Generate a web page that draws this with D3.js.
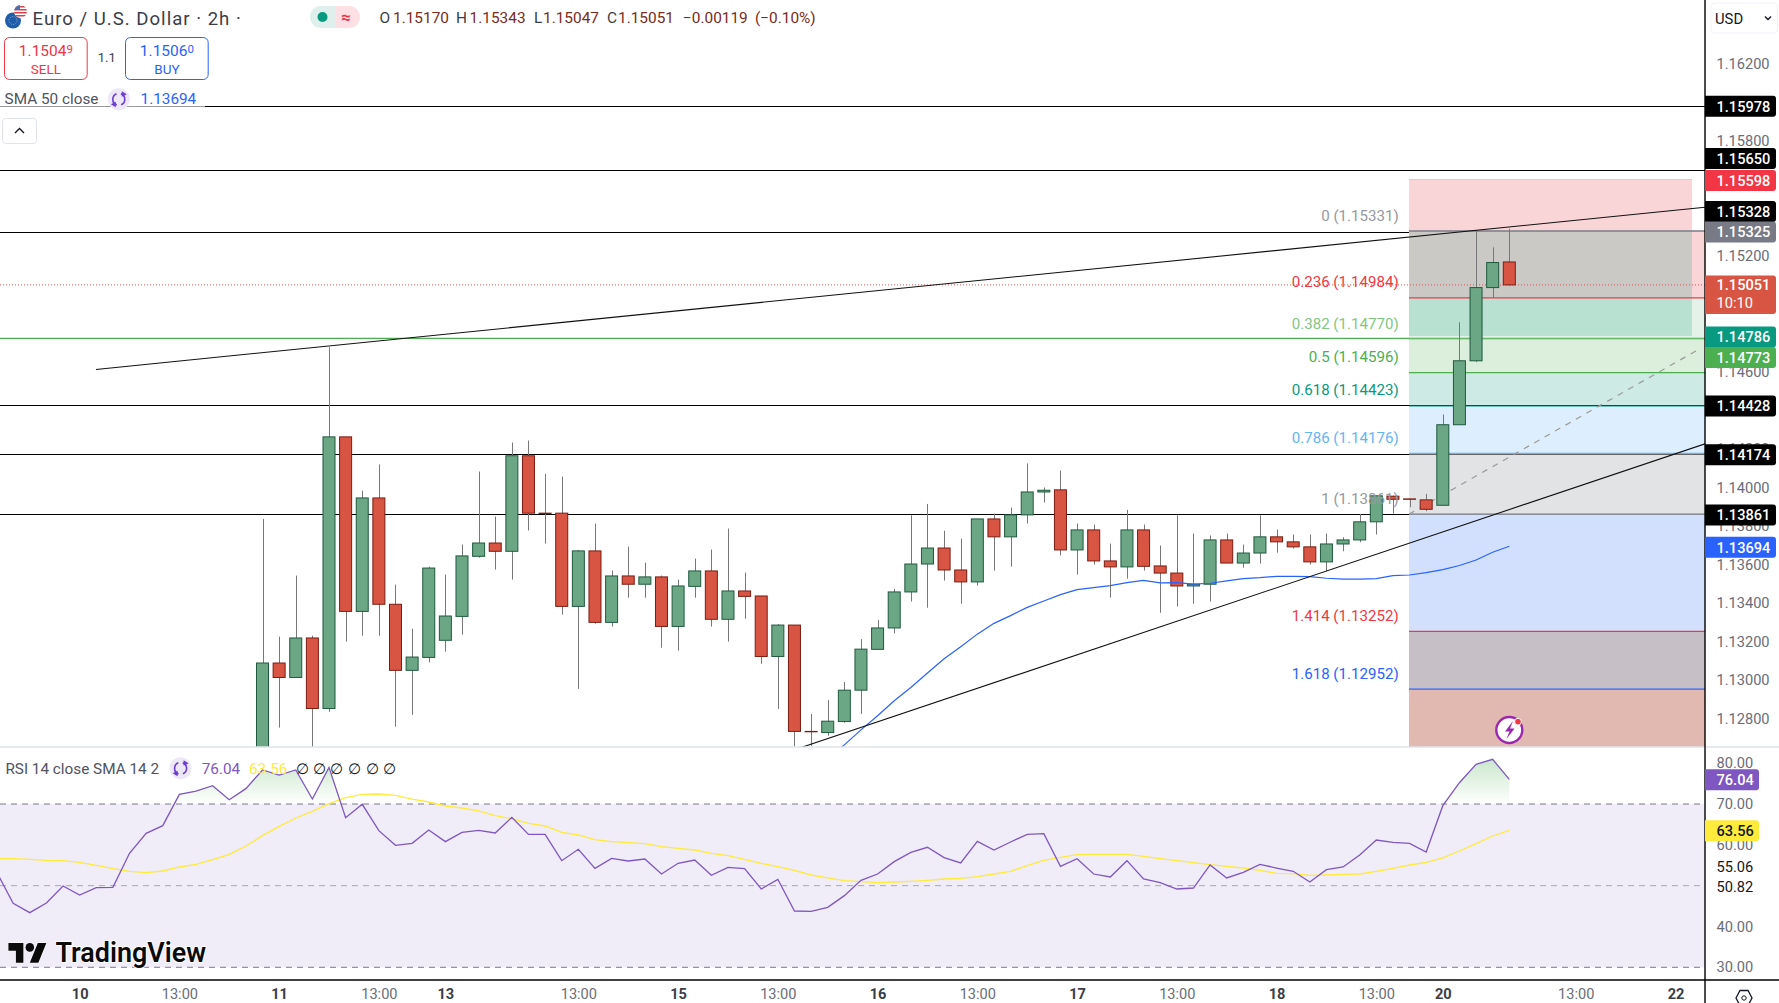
<!DOCTYPE html>
<html>
<head>
<meta charset="utf-8">
<title>EUR/USD 2h</title>
<script src="https://cdn.jsdelivr.net/npm/d3@7"></script>
<style>
	html, body { margin: 0; padding: 0; background: #fff; }
	svg { display: block; }
	text { font-family: Roboto, sans-serif; }
</style>
</head>
<body>
<div id="chart"></div>
<script>
// candles, one entry per 2h bar, index 0 is the first bar visible in the pane
const opens = [
	1.12420,1.13088,1.13013,1.13218,1.12852,1.14262,1.13356,1.13945,1.13393,1.13050,
	1.13117,1.13206,1.13330,1.13642,1.13711,1.13668,1.14164,1.13866,1.13866,1.13382,
	1.13670,1.13299,1.13540,1.13497,1.13535,1.13278,1.13486,1.13566,1.13315,1.13462,
	1.13436,1.13122,1.13285,1.12733,1.12727,1.12784,1.12947,1.13159,1.13270,1.13457,
	1.13602,1.13685,1.13571,1.13509,1.13836,1.13743,1.13857,1.13976,1.13987,1.13675,
	1.13779,1.13618,1.13587,1.13779,1.13592,1.13555,1.13488,1.13497,1.13727,1.13607,
	1.13659,1.13743,1.13717,1.13691,1.13613,1.13706,1.13727,1.13821,1.13954,1.13940,
	1.13935,1.13907,1.14325,1.14657,1.15037,1.15170];
const highs = [
	1.13836,1.13225,1.13542,1.13230,1.14728,1.14262,1.13983,1.14119,1.13495,1.13266,
	1.13588,1.13547,1.13703,1.14082,1.13848,1.14233,1.14243,1.14070,1.14056,1.13675,
	1.13812,1.13568,1.13692,1.13609,1.13542,1.13521,1.13630,1.13677,1.13786,1.13557,
	1.13436,1.13290,1.13285,1.12823,1.12895,1.12989,1.13212,1.13311,1.13472,1.13855,
	1.13914,1.13775,1.13734,1.13836,1.13864,1.13895,1.14124,1.13999,1.14087,1.13812,
	1.13807,1.13708,1.13883,1.13807,1.13698,1.13855,1.13760,1.13750,1.13760,1.13703,
	1.13855,1.13781,1.13755,1.13755,1.13760,1.13741,1.13862,1.13956,1.13957,1.13940,
	1.13966,1.14378,1.14857,1.15335,1.15246,1.15343];
const lows = [
	1.12350,1.12753,1.13013,1.12563,1.12835,1.13199,1.13230,1.13230,1.12757,1.12819,
	1.13091,1.13147,1.13235,1.13635,1.13573,1.13521,1.13776,1.13708,1.13339,1.12954,
	1.13292,1.13277,1.13427,1.13427,1.13167,1.13152,1.13427,1.13277,1.13199,1.13318,
	1.13084,1.12850,1.12563,1.12658,1.12710,1.12778,1.12824,1.13159,1.13242,1.13407,
	1.13375,1.13516,1.13396,1.13490,1.13568,1.13588,1.13812,1.13921,1.13646,1.13547,
	1.13599,1.13427,1.13526,1.13568,1.13349,1.13381,1.13396,1.13407,1.13607,1.13583,
	1.13604,1.13661,1.13682,1.13599,1.13564,1.13668,1.13715,1.13755,1.13864,1.13897,
	1.13876,1.13907,1.14325,1.14650,1.14983,1.15047];
const closes = [
	1.13088,1.13013,1.13218,1.12852,1.14262,1.13356,1.13945,1.13393,1.13050,1.13119,
	1.13581,1.13332,1.13644,1.13711,1.13668,1.14164,1.13866,1.13864,1.13382,1.13670,
	1.13299,1.13540,1.13497,1.13535,1.13278,1.13488,1.13566,1.13315,1.13462,1.13434,
	1.13122,1.13285,1.12733,1.12731,1.12786,1.12947,1.13160,1.13270,1.13457,1.13602,
	1.13685,1.13571,1.13509,1.13836,1.13743,1.13857,1.13976,1.13985,1.13675,1.13779,
	1.13618,1.13587,1.13779,1.13590,1.13555,1.13488,1.13497,1.13727,1.13607,1.13659,
	1.13743,1.13717,1.13691,1.13613,1.13706,1.13727,1.13821,1.13956,1.13938,1.13938,
	1.13886,1.14325,1.14657,1.15037,1.15167,1.15051];

// SMA 50, starts at bar 34 (earlier bars are below the pane)
const smaStart = 34;
const smaValues = [
	1.12585,1.12663,1.12741,1.12814,1.12892,1.12961,1.13036,1.13110,1.13173,1.13238,
	1.13294,1.13334,1.13377,1.13410,1.13443,1.13469,1.13479,1.13490,1.13505,1.13517,
	1.13504,1.13505,1.13498,1.13502,1.13514,1.13526,1.13531,1.13538,1.13538,1.13536,
	1.13528,1.13524,1.13524,1.13526,1.13542,1.13545,1.13557,1.13573,1.13594,1.13623,
	1.13663,1.13694];

// RSI pane reaches further left than the candles
const rsiStart = -16;
const rsiValues = [
	53.43,45.67,43.38,45.75,49.92,47.71,49.51,49.59,57.92,62.82,64.69,72.37,73.18,74.49,71.06,73.76,
	78.33,77.10,78.33,71.22,78.98,66.65,69.92,63.47,59.88,60.37,63.63,60.78,63.06,63.55,62.90,66.73,
	62.57,62.57,56.12,58.90,54.24,56.69,56.04,56.53,52.85,55.47,56.28,52.53,54.49,54.16,49.18,51.55,
	43.79,43.71,44.69,47.55,51.30,52.85,55.88,58.16,59.39,56.86,55.55,60.86,58.73,60.69,62.57,62.73,
	54.73,56.61,52.85,52.12,56.12,51.63,50.73,49.18,49.42,55.06,51.88,53.26,55.22,54.32,53.51,50.90,
	53.92,54.57,57.51,61.18,60.61,60.37,58.24,69.59,75.22,79.71,80.94,76.04];
const rsiSmaValues = [
	56.61,56.61,56.45,56.20,56.12,55.71,54.98,54.16,53.51,53.18,53.59,54.57,55.22,56.37,57.67,59.71,
	62.24,64.53,66.57,68.20,70.08,71.55,72.37,72.45,72.12,71.22,70.49,69.51,69.02,68.29,67.14,66.41,
	65.27,64.61,63.06,62.41,61.27,60.78,60.53,60.29,59.55,59.14,58.73,57.92,57.35,56.45,55.47,54.65,
	53.75,52.61,51.88,51.22,50.97,50.73,50.90,51.06,51.30,51.63,51.79,52.20,52.85,53.51,54.90,56.20,
	56.94,57.59,57.67,57.67,57.67,57.18,56.61,56.12,55.63,55.14,54.73,54.32,53.75,53.02,52.94,52.53,
	52.61,52.77,52.85,53.51,54.24,55.06,55.71,56.78,58.49,60.29,62.16,63.56];

// drawn levels
const blackLevels = [1.15978, 1.15650, 1.15328, 1.14428, 1.14174, 1.13861];
const greenLevel = 1.14773;
const lastPrice = 1.15051;
const fibRatios = ["0", "0.236", "0.382", "0.5", "0.618", "0.786", "1", "1.414", "1.618"];
const fibPrices = [1.15331, 1.14984, 1.14770, 1.14596, 1.14423, 1.14176, 1.13861, 1.13252, 1.12952];
const fibColors = ["#787b86", "#f23645", "#81c784", "#4caf50", "#089981", "#64b5f6", "#787b86", "#f23645", "#2962ff"];
const fibBandColors = ["#fad5d8", "#e4f2e9", "#dcefdd", "#cdeae4", "#ddeefe", "#e2e3e5", "#d2e0fd", "#c6bfc6", "#e2b9b0"];
const boxPrices = [1.15598, 1.15331, 1.14984, 1.14786];
const boxColors = ["#fad5d8", "#cbc9c6", "#b9e1d2"];
// [bar, price] ends of the drawn trend lines
const upperTrend = [[-10.02, 1.14612], [86.77, 1.15454]];
const lowerTrend = [[32.39, 1.12649], [86.77, 1.14226]];
const fibTrend = [[68.97, 1.13861], [86.53, 1.14723]];

// axes
// the other round ticks sit fully under a price label, so they are left out
const priceTicks = [1.162, 1.158, 1.152, 1.146, 1.142, 1.14, 1.138, 1.136, 1.134, 1.132, 1.13, 1.128];
const rsiTicks = [80, 70, 60, 40, 30];
const rsiPlainTicks = [55.06, 50.82];
const rsiPlainNudge = [2, 4.5];
const timeTickBars = [-11, -5, 1, 7, 11, 19, 25, 31, 37, 43, 49, 55, 61, 67, 71, 79, 85];
const timeTickLabels = ["10", "13:00", "11", "13:00", "13", "13:00", "15", "13:00", "16", "13:00", "17", "13:00", "18", "13:00", "20", "13:00", "22"];
const priceLabels = [1.15978, 1.15650, 1.15598, 1.15328, 1.15325, 1.14786, 1.14773, 1.14428, 1.14174, 1.13861, 1.13694];
const priceLabelColors = ["#000", "#000", "#f23645", "#000", "#787b86", "#089981", "#4caf50", "#000", "#000", "#000", "#2962ff"];
// labels pushed away from their level so they do not overlap
const priceLabelNudge = [0, -11, 1, -20, 0, 1, 19, 1, 1, 1, 1];

const W = 1779, H = 1003;
const axisX = 1705, mainBottom = 747, rsiBottom = 980;
const green = "#6ca785", greenEdge = "#1e5a3e", red = "#d95543", redEdge = "#7b1c12", wick = "#787878";

const x = d3.scaleLinear().domain([0, 75]).range([262.5, 1509.3]);
const y = d3.scaleLinear().domain([1.16530, 1.12652]).range([0, mainBottom]);
const r = d3.scaleLinear().domain([70, 30]).range([804, 967.3]);

const svg = d3.select("#chart").append("svg").attr("width", W).attr("height", H);
const defs = svg.append("defs");
defs.append("clipPath").attr("id", "main").append("rect").attr("width", axisX).attr("height", mainBottom);
defs.append("clipPath").attr("id", "over").append("rect").attr("width", axisX).attr("y", mainBottom).attr("height", r(70) - mainBottom);
const grad = defs.append("linearGradient").attr("id", "ob").attr("gradientUnits", "userSpaceOnUse")
	.attr("x1", 0).attr("x2", 0).attr("y1", r(81)).attr("y2", r(70));
grad.append("stop").attr("offset", 0).attr("stop-color", "#4caf50").attr("stop-opacity", 0.3);
grad.append("stop").attr("offset", 1).attr("stop-color", "#4caf50").attr("stop-opacity", 0);

svg.append("rect").attr("width", W).attr("height", H).attr("fill", "#fff");

// ---- main pane
const main = svg.append("g").attr("clip-path", "url(#main)");
const xA = 1409, xB = axisX, xBoxEnd = 1692;

main.selectAll(".lvl").data(blackLevels).enter().append("line")
	.attr("x1", 0).attr("x2", axisX).attr("y1", d => Math.round(y(d)) + 0.5).attr("y2", d => Math.round(y(d)) + 0.5)
	.attr("stroke", "#000").attr("stroke-width", 1.2);

// fib bands, each one runs down to the next level
main.selectAll(".band").data(fibPrices).enter().append("rect")
	.attr("x", xA).attr("width", xB - xA)
	.attr("y", d => y(d))
	.attr("height", (d, i) => (i + 1 < fibPrices.length ? y(fibPrices[i + 1]) : mainBottom) - y(d))
	.attr("fill", (d, i) => fibBandColors[i]);
// position box on top of the bands
main.selectAll(".box").data(boxColors).enter().append("rect")
	.attr("x", xA).attr("width", xBoxEnd - xA)
	.attr("y", (d, i) => y(boxPrices[i]))
	.attr("height", (d, i) => y(boxPrices[i + 1]) - y(boxPrices[i]))
	.attr("fill", d => d);
main.append("line").attr("x1", xA).attr("x2", xBoxEnd).attr("y1", y(boxPrices[0])).attr("y2", y(boxPrices[0])).attr("stroke", "#f9c0c4");

main.append("line").attr("x1", 0).attr("x2", axisX).attr("y1", y(greenLevel)).attr("y2", y(greenLevel))
	.attr("stroke", "#4caf50").attr("stroke-width", 1.2);

main.selectAll(".fibline").data(fibPrices).enter().append("line")
	.attr("x1", xA).attr("x2", xB).attr("y1", d => y(d)).attr("y2", d => y(d))
	.attr("stroke", (d, i) => fibColors[i]).attr("stroke-width", (d, i) => i == 0 ? 1.5 : 1.2);
// two of the black levels still show through the bands
main.selectAll(".dim").data(blackLevels.slice(3, 5)).enter().append("line")
	.attr("x1", xA).attr("x2", xB).attr("y1", d => Math.round(y(d)) + 0.5).attr("y2", d => Math.round(y(d)) + 0.5)
	.attr("stroke", "#000").attr("stroke-opacity", 0.55);

svg.append("g").selectAll("text").data(fibPrices).enter().append("text")
	.attr("x", 1398.7).attr("y", d => y(d) - 15.7).attr("dy", "0.35em").attr("text-anchor", "end")
	.attr("font-size", 15.1).attr("fill", (d, i) => i == 0 || i == 6 ? "#9598a1" : fibColors[i])
	.text((d, i) => fibRatios[i] + " (" + d.toFixed(5) + ")");

main.append("line").attr("x1", 0).attr("x2", axisX).attr("y1", y(lastPrice)).attr("y2", y(lastPrice))
	.attr("stroke", "#d9534f").attr("stroke-dasharray", "1 2");

const trendLine = d3.line().x(d => x(d[0])).y(d => y(d[1]));
main.append("path").attr("d", trendLine(fibTrend)).attr("fill", "none").attr("stroke", "#9a9a9a").attr("stroke-width", 1.2).attr("stroke-dasharray", "6 6");

// candles
const bars = d3.range(opens.length);
const isUp = i => closes[i] >= opens[i];
main.selectAll(".wick").data(bars).enter().append("line")
	.attr("x1", i => Math.round(x(i)) + 0.5).attr("x2", i => Math.round(x(i)) + 0.5)
	.attr("y1", i => y(highs[i])).attr("y2", i => y(lows[i]))
	.attr("stroke", wick).attr("stroke-width", 1);
main.selectAll(".body").data(bars).enter().append("rect")
	.attr("x", i => x(i) - 6).attr("width", 12)
	.attr("y", i => y(Math.max(opens[i], closes[i])))
	.attr("height", i => Math.abs(y(opens[i]) - y(closes[i])))
	.attr("fill", i => isUp(i) ? green : red)
	.attr("stroke", i => isUp(i) ? greenEdge : redEdge).attr("stroke-width", 1);

// SMA and trend lines on top of the candles
const smaLine = d3.line().x((d, i) => x(smaStart + i)).y(d => y(d));
main.append("path").attr("d", smaLine(smaValues)).attr("fill", "none").attr("stroke", "#2962ff").attr("stroke-width", 1.2);
[upperTrend, lowerTrend].forEach(t => {
	main.append("path").attr("d", trendLine(t)).attr("fill", "none").attr("stroke", "#111").attr("stroke-width", 1.1);
});

// ---- rsi pane
svg.append("rect").attr("x", 0).attr("width", axisX).attr("y", r(70)).attr("height", r(30) - r(70)).attr("fill", "#f0ecf8");
const rsiArea = d3.area().x((d, i) => x(rsiStart + i)).y0(r(70)).y1(d => r(d));
svg.append("path").attr("clip-path", "url(#over)").attr("d", rsiArea(rsiValues)).attr("fill", "url(#ob)");
[70, 50, 30].forEach(v => {
	svg.append("line").attr("x1", 0).attr("x2", axisX).attr("y1", r(v)).attr("y2", r(v))
		.attr("stroke", "#787b86").attr("stroke-dasharray", "6 5").attr("stroke-opacity", v == 50 ? 0.6 : 1);
});
const rsiClip = defs.append("clipPath").attr("id", "rsi");
rsiClip.append("rect").attr("y", mainBottom).attr("width", axisX).attr("height", rsiBottom - mainBottom);
const rsiLine = d3.line().x((d, i) => x(rsiStart + i)).y(d => r(d));
svg.append("path").attr("clip-path", "url(#rsi)").attr("d", rsiLine(rsiSmaValues)).attr("fill", "none").attr("stroke", "#ffeb3b").attr("stroke-width", 1.3);
svg.append("path").attr("clip-path", "url(#rsi)").attr("d", rsiLine(rsiValues)).attr("fill", "none").attr("stroke", "#7e57c2").attr("stroke-width", 1.3);

// ---- frame
svg.append("line").attr("x1", 0).attr("x2", W).attr("y1", mainBottom).attr("y2", mainBottom).attr("stroke", "#e0e3eb").attr("stroke-width", 1.5);
svg.append("line").attr("x1", 0).attr("x2", W).attr("y1", rsiBottom).attr("y2", rsiBottom).attr("stroke", "#000").attr("stroke-width", 1.4);
svg.append("line").attr("x1", axisX).attr("x2", axisX).attr("y1", 0).attr("y2", H).attr("stroke", "#000").attr("stroke-width", 1.4);

// ---- axes
const fontAxis = 14.6;
const fontLegend = 15.3;
const priceAxis = svg.append("g").attr("transform", "translate(" + axisX + ",0)")
	.call(d3.axisRight(y).tickValues(priceTicks).tickFormat(d3.format(".5f")).tickSize(0).tickPadding(11.5));
priceAxis.select(".domain").remove();
priceAxis.selectAll("text").attr("font-size", fontAxis).attr("font-family", "Roboto").attr("fill", "#6a6d78");

const rsiAxis = svg.append("g").attr("transform", "translate(" + axisX + ",0)")
	.call(d3.axisRight(r).tickValues(rsiTicks).tickFormat(d3.format(".2f")).tickSize(0).tickPadding(11.5));
rsiAxis.select(".domain").remove();
rsiAxis.selectAll("text").attr("font-size", fontAxis).attr("font-family", "Roboto").attr("fill", "#6a6d78");

const rsiPlain = svg.append("g").attr("transform", "translate(" + axisX + ",0)")
	.call(d3.axisRight(r).tickValues(rsiPlainTicks).tickFormat(d3.format(".2f")).tickSize(0).tickPadding(11.5));
rsiPlain.select(".domain").remove();
rsiPlain.selectAll("text").attr("font-size", fontAxis).attr("font-family", "Roboto").attr("fill", "#131722")
	.attr("transform", (d, i) => "translate(0," + rsiPlainNudge[i] + ")");

const timeAxis = svg.append("g").attr("transform", "translate(0," + (rsiBottom + 1) + ")")
	.call(d3.axisBottom(x).tickValues(timeTickBars).tickFormat((d, i) => timeTickLabels[i]).tickSize(0).tickPadding(8));
timeAxis.select(".domain").remove();
timeAxis.selectAll("text").attr("font-size", fontAxis).attr("font-family", "Roboto")
	.attr("fill", (d, i) => timeTickLabels[i] == "13:00" ? "#6a6d78" : "#3b3e48")
	.attr("font-weight", (d, i) => timeTickLabels[i] == "13:00" ? 400 : 700);

// price labels on the axis
function axisLabel(cy, color, text, textColor, w) {
	const g = svg.append("g");
	g.append("path").attr("fill", color)
		.attr("d", "M" + axisX + "," + (cy - 10.5) + "h" + (w - 3) + "q3,0 3,3v15q0,3 -3,3h-" + (w - 3) + "z");
	g.append("text").attr("x", axisX + 11.5).attr("y", cy).attr("dy", "0.36em")
		.attr("font-size", fontAxis).attr("font-weight", 500).attr("fill", textColor || "#fff").text(text);
}
priceLabels.forEach((p, i) => axisLabel(y(p) + priceLabelNudge[i], priceLabelColors[i], p.toFixed(5), "#fff", 71));

// last price with the countdown
const lastBox = svg.append("g");
lastBox.append("path").attr("fill", red)
	.attr("d", "M" + axisX + "," + (y(lastPrice) - 9.5) + "h68q3,0 3,3v32.5q0,3 -3,3h-68z");
lastBox.append("text").attr("x", axisX + 11.5).attr("y", y(lastPrice)).attr("dy", "0.36em").attr("font-size", fontAxis).attr("font-weight", 500).attr("fill", "#fff").text(lastPrice.toFixed(5));
lastBox.append("text").attr("x", axisX + 11.5).attr("y", y(lastPrice) + 18).attr("dy", "0.36em").attr("font-size", fontAxis).attr("fill", "#fff").text("10:10");

axisLabel(r(rsiValues[rsiValues.length - 1]) + 0.5, "#7e57c2", "76.04", "#fff", 54);
axisLabel(r(rsiSmaValues[rsiSmaValues.length - 1]) + 0.5, "#ffeb3b", "63.56", "#131722", 54);

// ---- header
const title = svg.append("g");
defs.append("clipPath").attr("id", "us").append("circle").attr("cx", 20.5).attr("cy", 11.5).attr("r", 6.5);
title.append("circle").attr("cx", 13).attr("cy", 20.5).attr("r", 8).attr("fill", "#1f5da8");
title.append("circle").attr("cx", 13).attr("cy", 20.5).attr("r", 4).attr("fill", "none").attr("stroke", "#8fb0d0").attr("stroke-dasharray", "1 1.5");
const us = title.append("g").attr("clip-path", "url(#us)");
us.append("rect").attr("x", 13).attr("y", 4).attr("width", 15).attr("height", 15).attr("fill", "#fff");
[6, 9, 12, 15].forEach(v => us.append("rect").attr("x", 13).attr("y", v).attr("width", 15).attr("height", 1.5).attr("fill", "#d8434e"));
us.append("rect").attr("x", 13).attr("y", 4).attr("width", 7).attr("height", 6).attr("fill", "#4b6fb5");

svg.append("text").attr("x", 32.5).attr("y", 24.5).attr("font-size", 18.6).attr("letter-spacing", 1).attr("fill", "#3b3e48").text("Euro / U.S. Dollar · 2h ·");

// status pill
svg.append("path").attr("d", "M335,6h-14a11,11 0 0 0 0,22h14z").attr("fill", "#dff0ec");
svg.append("path").attr("d", "M335,6h14a11,11 0 0 1 0,22h-14z").attr("fill", "#fde0e3");
svg.append("circle").attr("cx", 322.5).attr("cy", 17).attr("r", 5).attr("fill", "#089981");
svg.append("text").attr("x", 346).attr("y", 17).attr("dy", "0.35em").attr("text-anchor", "middle").attr("font-size", 17).attr("font-weight", 700).attr("fill", "#f23645").text("≈");

// OHLC legend
const ohlcParts = ["O", "1.15170", "H", "1.15343", "L", "1.15047", "C", "1.15051", "-0.00119", "(-0.10%)"];
const ohlcX = [379.5, 393, 456, 469.6, 534, 543, 607, 618, 683, 755];
ohlcParts.forEach((t, i) => {
	svg.append("text").attr("x", ohlcX[i]).attr("y", 23).attr("font-size", 15.4)
		.attr("fill", i % 2 == 0 && i < 8 ? "#3b3e48" : "#7a2b22").text(t.replace(/-/g, "\u2212"));
});

// sell / buy
function tradeButton(x0, color, big, small, label) {
	const cx = x0 + 41.4;
	svg.append("rect").attr("x", x0).attr("y", 37.5).attr("width", 82.7).attr("height", 42).attr("rx", 5)
		.attr("fill", "#fff").attr("stroke", color);
	const t = svg.append("text").attr("x", cx).attr("y", 56).attr("text-anchor", "middle").attr("font-size", 15.5).attr("fill", color);
	t.append("tspan").text(big);
	t.append("tspan").attr("font-size", 11.5).attr("dy", -3).text(small);
	svg.append("text").attr("x", cx).attr("y", 73.5).attr("text-anchor", "middle").attr("font-size", 13.5).attr("fill", color).text(label);
}
tradeButton(4.5, "#f23645", "1.1504", "9", "SELL");
tradeButton(125.5, "#2962ff", "1.1506", "0", "BUY");
svg.append("text").attr("x", 106.8).attr("y", 57.5).attr("dy", "0.35em").attr("text-anchor", "middle").attr("font-size", 13).attr("fill", "#3b3e48").text("1.1");

// indicator legends
function refreshIcon(cx, cy) {
	svg.append("circle").attr("cx", cx).attr("cy", cy).attr("r", 11).attr("fill", "#ede7f6");
	const arc = d3.arc().innerRadius(5.2).outerRadius(6.8);
	[[0.35, 2.75], [3.5, 5.9]].forEach(a => {
		svg.append("path").attr("transform", "translate(" + cx + "," + cy + ")")
			.attr("d", arc({ startAngle: a[0], endAngle: a[1] })).attr("fill", "#6a3fd0");
	});
	svg.append("path").attr("d", "M" + (cx + 3) + "," + (cy - 8) + "l5,3l-5,2.5z").attr("fill", "#6a3fd0");
	svg.append("path").attr("d", "M" + (cx - 3) + "," + (cy + 8) + "l-5,-3l5,-2.5z").attr("fill", "#6a3fd0");
}
svg.append("rect").attr("x", 0).attr("y", 90).attr("width", 205).attr("height", 20).attr("fill", "#fff").attr("fill-opacity", 0.6);
svg.append("text").attr("x", 4.6).attr("y", 104).attr("font-size", fontLegend).attr("fill", "#50535e").text("SMA 50 close");
refreshIcon(118.8, 99.3);
svg.append("text").attr("x", 140.6).attr("y", 104).attr("font-size", fontLegend).attr("fill", "#2962ff").text("1.13694");

svg.append("text").attr("x", 5.4).attr("y", 773.5).attr("font-size", fontLegend).attr("fill", "#50535e").text("RSI 14 close SMA 14 2");
refreshIcon(180.6, 768.3);
svg.append("text").attr("x", 201.7).attr("y", 773.5).attr("font-size", fontLegend).attr("fill", "#7e57c2").text("76.04");
svg.append("text").attr("x", 249).attr("y", 773.5).attr("font-size", fontLegend).attr("fill", "#ffeb3b").text("63.56");
[302.3, 319.6, 336.8, 354, 372, 389].forEach(v => {
	svg.append("text").attr("x", v).attr("y", 773.5).attr("text-anchor", "middle").attr("font-size", 14.8).attr("fill", "#131722").text("∅");
});

// collapse button
svg.append("rect").attr("x", 2.5).attr("y", 118.5).attr("width", 34).attr("height", 25).attr("rx", 3).attr("fill", "#fff").attr("stroke", "#e0e3eb");
svg.append("path").attr("d", "M15,133l4.5,-4.5l4.5,4.5").attr("fill", "none").attr("stroke", "#131722").attr("stroke-width", 1.4);

// currency button
svg.append("rect").attr("x", 1711).attr("y", 3).attr("width", 66.5).attr("height", 30).attr("rx", 4).attr("fill", "#fff").attr("stroke", "#f0f3fa");
svg.append("text").attr("x", 1715).attr("y", 23.5).attr("font-size", 14.8).attr("fill", "#131722").text("USD");
svg.append("path").attr("d", "M1765,16.5l3,3l3,-3").attr("fill", "none").attr("stroke", "#131722").attr("stroke-width", 1.4);

// lightning badge
svg.append("circle").attr("cx", 1509.3).attr("cy", 730).attr("r", 13).attr("fill", "#fff").attr("stroke", "#9c27b0").attr("stroke-width", 2.4);
svg.append("path").attr("d", "M1513,721l-8,10.5h4.5l-3,7.5l8,-10.5h-4.5z").attr("fill", "#9c27b0");
svg.append("circle").attr("cx", 1518).attr("cy", 721.7).attr("r", 3.4).attr("fill", "#f23645").attr("stroke", "#fff");

// settings hexagon, cut by the window edge
svg.append("path").attr("d", "M1736,998l4,-7.5h8l4,7.5l-4,7.5h-8z").attr("fill", "none").attr("stroke", "#131722").attr("stroke-width", 1.3);
svg.append("circle").attr("cx", 1744).attr("cy", 998).attr("r", 2.2).attr("fill", "none").attr("stroke", "#131722");

// watermark
const logo = svg.append("g").attr("transform", "translate(8.4,938.6) scale(1.07,1.1)").attr("fill", "#0b0b0b");
logo.append("path").attr("d", "M14 22H7V11H0V4h14v18zM28 22h-8l7.5-18h8L28 22z").attr("stroke", "#fff").attr("stroke-width", 1).attr("paint-order", "stroke");
logo.append("circle").attr("cx", 20).attr("cy", 8).attr("r", 4);
svg.append("text").attr("x", 55.5).attr("y", 961.7).attr("font-family", "Inter").attr("font-size", 26.9).attr("font-weight", 600)
	.attr("fill", "#0b0b0b").attr("stroke", "#fff").attr("stroke-width", 2).attr("paint-order", "stroke").text("TradingView");
</script>
</body>
</html>
